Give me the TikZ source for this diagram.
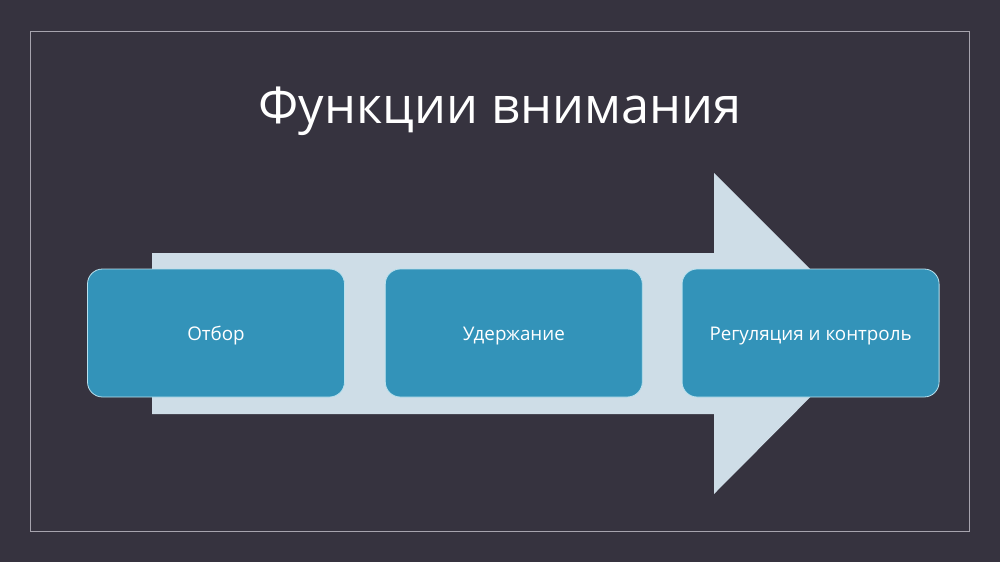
\documentclass[tikz,border=0pt]{standalone}
\usepackage{fontspec}
\setmainfont{Open Sans}
\usetikzlibrary{positioning}
\definecolor{slidebg}{HTML}{36333F}
\definecolor{arrowfill}{HTML}{CEDDE7}
\definecolor{boxfill}{HTML}{3393B9}
\definecolor{boxline}{HTML}{B9E1EE}
\definecolor{frameline}{HTML}{A7A4AE}
\begin{document}
\begin{tikzpicture}[x=1pt,y=-1pt,
	stage/.style={draw=boxline, fill=boxfill, line width=0.8pt, rounded corners=15pt,
		minimum width=257pt, minimum height=128pt, text height=15pt, text depth=0pt,
		text=white, font=\fontsize{18.8}{22}\selectfont}]
	\fill[slidebg] (0,0) rectangle (1000,562);
	\draw[frameline, line width=1pt] (30,31) rectangle (969,531);
	\node[text=white, font=\fontsize{50.5}{60}\selectfont] (title) at (500,111) {Функции внимания};
	% big arrow behind the boxes
	\fill[arrowfill] (152,253)--(714,253)--(714,173)--(874,333)--(714,494)--(714,414)--(152,414)--cycle;
	\node[stage] (otbor) at (216,333) {Отбор};
	\node[stage, right=40pt of otbor] (uderzh) {Удержание};
	\node[stage, right=39pt of uderzh] (regul) {Регуляция и контроль};
\end{tikzpicture}
\end{document}
